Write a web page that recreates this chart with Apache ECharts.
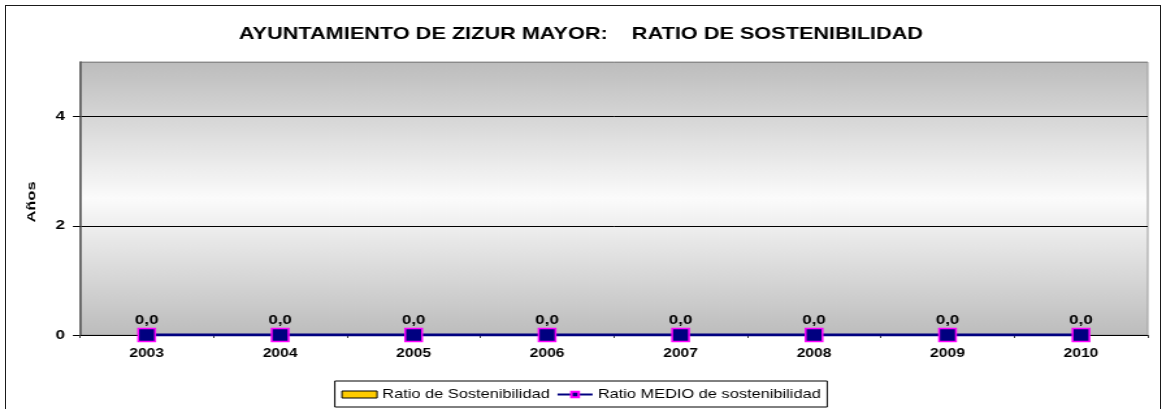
<!DOCTYPE html>
<html>
<head>
<meta charset="utf-8">
<script src="https://cdn.jsdelivr.net/npm/echarts@6/dist/echarts.min.js"></script>
<style>
  html, body { margin: 0; padding: 0; background: #fff; overflow: hidden; }
  #frame { position: absolute; left: 5px; top: 5px; width: 1156px; height: 420px; border: 1px solid #1a1a1a; box-sizing: border-box; }
  /* the sheet's chart is drawn in a wide aspect: render narrower, then stretch horizontally */
  #chart { position: absolute; left: 0; top: 0; width: 894px; height: 409px; transform: scaleX(1.2998); transform-origin: 0 0; }
</style>
</head>
<body>
<div id="frame"></div>
<div id="chart"></div>
<script>
// Years on the category axis
const years = ['2003', '2004', '2005', '2006', '2007', '2008', '2009', '2010'];
// Sustainability ratio per year (bars)
const ratioSostenibilidad = [0, 0, 0, 0, 0, 0, 0, 0];
// Average sustainability ratio per year (line)
const ratioMedio = [0, 0, 0, 0, 0, 0, 0, 0];
// Value axis range
const yMin = 0, yMax = 5, yStep = 2;

const fmt = v => Number(v).toFixed(1).replace('.', ',');
const font = 'Liberation Sans, Arial, sans-serif';

const chart = echarts.init(document.getElementById('chart'), null, { renderer: 'canvas' });
chart.setOption({
  animation: false,
  title: {
    text: 'AYUNTAMIENTO DE ZIZUR MAYOR:    RATIO DE SOSTENIBILIDAD',
    left: 'center', top: 21,
    textStyle: { fontFamily: font, fontSize: 16.7, fontWeight: 'bold', color: '#000' }
  },
  graphic: [{
    type: 'text', x: 24.8, y: 202, rotation: Math.PI / 2, scaleX: 1.37, scaleY: 0.74,
    style: { text: 'Años', fontFamily: font, fontSize: 12, fontWeight: 'bold', fill: '#000', align: 'center', verticalAlign: 'middle' }
  }],
  legend: {
    bottom: 2, left: 'center',
    itemGap: 5, itemWidth: 27, itemHeight: 7,
    padding: [7, 5, 6, 5],
    borderColor: '#000', borderWidth: 1,
    textStyle: { fontFamily: font, fontSize: 12.6, color: '#000', padding: [0, 0, 0, -1] },
    data: [
      { name: 'Ratio de Sostenibilidad', icon: 'rect', itemStyle: { color: '#ffcc00', borderColor: '#000', borderWidth: 1 } },
      { name: 'Ratio MEDIO de sostenibilidad' }
    ]
  },
  grid: {
    left: 61.5, right: 11, top: 62, bottom: 74,
    show: true, borderWidth: 1, borderColor: '#9a9a9a',
    backgroundColor: {
      type: 'linear', x: 0, y: 0, x2: 0, y2: 1,
      colorStops: [
        { offset: 0, color: '#bcbcbc' },
        { offset: 0.5, color: '#fbfbfb' },
        { offset: 1, color: '#bcbcbc' }
      ]
    }
  },
  xAxis: {
    type: 'category', data: years, boundaryGap: true,
    axisLine: { lineStyle: { color: '#000', width: 1 } },
    axisTick: { show: true, length: 3, alignWithLabel: false, lineStyle: { color: '#404040' } },
    axisLabel: { fontFamily: font, fontSize: 12, fontWeight: 'bold', color: '#000', margin: 12.5 }
  },
  yAxis: {
    type: 'value', min: yMin, max: yMax, interval: yStep,
    axisLine: { show: true, lineStyle: { color: '#5a5a5a', width: 1.6 } },
    axisTick: { show: true, length: 5.4, lineStyle: { color: '#000' } },
    axisLabel: { fontFamily: font, fontSize: 13, fontWeight: 'bold', color: '#000', margin: 11.5, showMaxLabel: false },
    splitLine: { show: true, lineStyle: { color: ['#000', '#000', '#000', '#8a8a8a'], width: 1 } }
  },
  series: [
    {
      name: 'Ratio de Sostenibilidad', type: 'bar', data: ratioSostenibilidad,
      barWidth: '50%',
      itemStyle: { color: '#ffcc00', borderWidth: 0 }
    },
    {
      name: 'Ratio MEDIO de sostenibilidad', type: 'line', data: ratioMedio,
      symbol: 'rect', symbolSize: [13, 13],
      lineStyle: { color: '#000080', width: 3 },
      itemStyle: { color: '#000080', borderColor: '#ff00ff', borderWidth: 1.5 },
      label: {
        show: true, position: 'top', distance: 1,
        formatter: p => fmt(p.value),
        fontFamily: font, fontSize: 13, fontWeight: 'bold', color: '#000'
      },
      z: 5
    }
  ]
});
</script>
</body>
</html>
